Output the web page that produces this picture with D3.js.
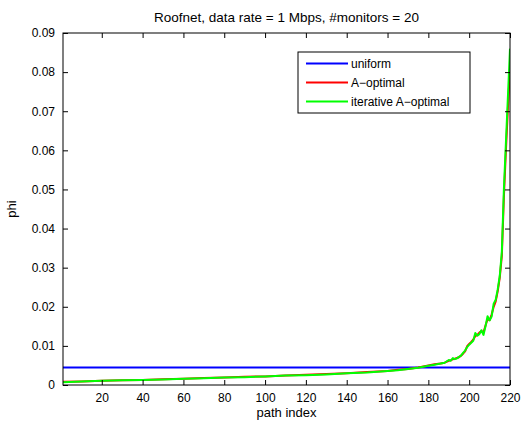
<!DOCTYPE html>
<html>
<head>
<meta charset="utf-8">
<script src="https://cdn.jsdelivr.net/npm/d3@7"></script>
<style>
	body { margin: 0; background: #fff; }
	text { font-family: "Liberation Sans", Arial, Helvetica, sans-serif; fill: #000; }
	.axis path, .axis line { stroke: #000; }
</style>
</head>
<body>
<div id=chart></div>
<script>

// data
var xTicks = [20, 40, 60, 80, 100, 120, 140, 160, 180, 200, 220];
var yTicks = [0, 0.01, 0.02, 0.03, 0.04, 0.05, 0.06, 0.07, 0.08, 0.09];
var seriesNames = ["uniform", "A\u2212optimal", "iterative A\u2212optimal"];
var seriesColors = ["#0000ff", "#ff0000", "#00ff00"];

var uniformValue = 0.0045;

var pathIndex = [1, 10, 20, 30, 40, 50, 60, 70, 80, 90, 100, 110, 120, 130, 140, 150, 160, 165, 170, 175,
	180, 183, 186, 188, 190, 191, 192, 193, 194, 195, 196, 197, 198, 199, 200, 201, 202, 203, 204, 205,
	206, 207, 208, 209, 210, 211, 212, 213, 214, 215, 216, 217, 218, 219, 220];

var aOptimal = [0.0008, 0.0009, 0.0011, 0.0012, 0.0013, 0.0015, 0.0016, 0.0018, 0.0019, 0.0021, 0.0022, 0.0024, 0.0026, 0.0028, 0.0030, 0.0033, 0.0036, 0.0039, 0.0041, 0.0045,
	0.0050, 0.0053, 0.0055, 0.0057, 0.0062, 0.0063, 0.0066, 0.0067, 0.0069, 0.0071, 0.0075, 0.0080, 0.0086, 0.0099, 0.0105, 0.0110, 0.0116, 0.0125, 0.0128, 0.0134,
	0.0138, 0.0134, 0.0152, 0.0168, 0.0166, 0.0180, 0.0200, 0.0214, 0.0240, 0.0275, 0.0330, 0.0480, 0.0600, 0.0710, 0.0810];

var iterAOptimal = [0.0007, 0.0009, 0.0011, 0.0012, 0.0013, 0.0014, 0.0016, 0.0017, 0.0019, 0.0020, 0.0022, 0.0024, 0.0025, 0.0027, 0.0030, 0.0032, 0.0036, 0.0038, 0.0041, 0.0044,
	0.0049, 0.0052, 0.0055, 0.0057, 0.0064, 0.0062, 0.0069, 0.0066, 0.0068, 0.0072, 0.0075, 0.0082, 0.0088, 0.0097, 0.0103, 0.0108, 0.0113, 0.0133, 0.0126, 0.0130,
	0.0140, 0.0128, 0.0150, 0.0176, 0.0165, 0.0175, 0.0208, 0.0218, 0.0245, 0.0280, 0.0340, 0.0500, 0.0620, 0.0740, 0.0860];

var margin = {top: 33, right: 13, bottom: 40, left: 63},
	width = 523 - margin.left - margin.right,
	height = 425 - margin.top - margin.bottom;

var svg = d3.select("#chart")
  .append("svg")
	.attr("width", 523)
	.attr("height", 425)
  .append("g")
	.attr("transform", "translate(" + margin.left + "," + margin.top + ")");

var x = d3.scaleLinear().domain([1, 220]).range([0, width]);
var y = d3.scaleLinear().domain([0, 0.09]).range([height, 0]);

function yFmt(d) { return d === 0 ? "0" : d3.format(".2f")(d); }

// clip for the lines
svg.append("clipPath").attr("id", "clip")
  .append("rect").attr("width", width).attr("height", height);

var lines = svg.append("g").attr("clip-path", "url(#clip)");

lines.append("line")
	.attr("x1", x(1)).attr("x2", x(220))
	.attr("y1", y(uniformValue)).attr("y2", y(uniformValue))
	.attr("stroke", seriesColors[0])
	.attr("stroke-width", 2);

var line = d3.line()
	.x(function(d, i) { return x(pathIndex[i]); })
	.y(function(d) { return y(d); });

lines.append("path").datum(aOptimal)
	.attr("fill", "none").attr("stroke", seriesColors[1]).attr("stroke-width", 2)
	.attr("stroke-linejoin", "round")
	.attr("d", line);

lines.append("path").datum(iterAOptimal)
	.attr("fill", "none").attr("stroke", seriesColors[2]).attr("stroke-width", 2)
	.attr("stroke-linejoin", "round")
	.attr("d", line);

// axes, ticks pointing inward on all four sides
svg.append("g").attr("class", "axis")
	.attr("transform", "translate(0," + height + ")")
	.call(d3.axisBottom(x).tickValues(xTicks).tickSizeInner(-5).tickSizeOuter(0).tickPadding(8))
	.call(function(g) { g.select(".domain").remove(); })
	.selectAll("text").attr("font-size", 12);

svg.append("g").attr("class", "axis")
	.call(d3.axisTop(x).tickValues(xTicks).tickSizeInner(-5).tickSizeOuter(0).tickFormat(""))
	.call(function(g) { g.select(".domain").remove(); });

svg.append("g").attr("class", "axis")
	.call(d3.axisLeft(y).tickValues(yTicks).tickFormat(yFmt).tickSizeInner(-5).tickSizeOuter(0).tickPadding(8))
	.call(function(g) { g.select(".domain").remove(); })
	.selectAll("text").attr("font-size", 12);

svg.append("g").attr("class", "axis")
	.attr("transform", "translate(" + width + ",0)")
	.call(d3.axisRight(y).tickValues(yTicks).tickSizeInner(-5).tickSizeOuter(0).tickFormat(""))
	.call(function(g) { g.select(".domain").remove(); });

svg.append("rect")
	.attr("width", width).attr("height", height)
	.attr("fill", "none").attr("stroke", "#000").attr("stroke-width", 1);

// labels
svg.append("text")
	.attr("x", width / 2).attr("y", -11.5)
	.attr("text-anchor", "middle").attr("font-size", 13.5)
	.text("Roofnet, data rate = 1 Mbps, #monitors = 20");

svg.append("text")
	.attr("x", width / 2).attr("y", height + 32)
	.attr("text-anchor", "middle").attr("font-size", 13)
	.text("path index");

svg.append("text")
	.attr("transform", "translate(" + (-47) + "," + (height / 2) + ") rotate(-90)")
	.attr("text-anchor", "middle").attr("font-size", 13)
	.text("phi");

// legend
var legend = svg.append("g").attr("transform", "translate(" + (298 - margin.left) + "," + (52 - margin.top) + ")");
legend.append("rect")
	.attr("width", 172).attr("height", 61)
	.attr("fill", "#fff").attr("stroke", "#000").attr("stroke-width", 1);

seriesNames.forEach(function(name, i) {
	var ly = 11.5 + i * 19;
	legend.append("line")
		.attr("x1", 8).attr("x2", 50)
		.attr("y1", ly).attr("y2", ly)
		.attr("stroke", seriesColors[i]).attr("stroke-width", 2);
	legend.append("text")
		.attr("x", 53).attr("y", ly + 4)
		.attr("font-size", 12)
		.text(name);
});

</script>
</body>
</html>
